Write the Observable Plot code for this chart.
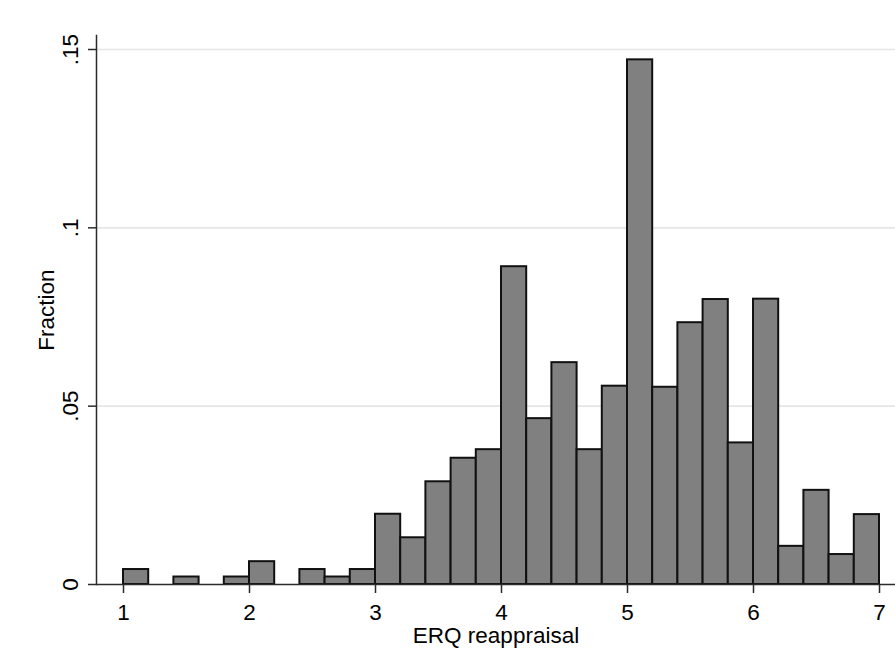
<!DOCTYPE html>
<html>
<head>
<meta charset="utf-8">
<script src="https://cdn.jsdelivr.net/npm/d3@7"></script>
<script src="https://cdn.jsdelivr.net/npm/@observablehq/plot@0.6"></script>
<style>
  html, body { margin: 0; padding: 0; background: #fff; }
  #chart svg { display: block; }
</style>
</head>
<body>
<div id="chart"></div>
<script>
// Histogram of ERQ reappraisal (bin width 0.2), only non-empty bins
const binWidth = 0.2;
const binLow = [1.0, 1.4, 1.8, 2.0, 2.4, 2.6, 2.8, 3.0, 3.2, 3.4, 3.6, 3.8, 4.0, 4.2, 4.4, 4.6, 4.8, 5.0, 5.2, 5.4, 5.6, 5.8, 6.0, 6.2, 6.4, 6.6, 6.8];
const fraction = [0.0042, 0.0021, 0.0021, 0.0064, 0.0042, 0.0021, 0.0042, 0.0197, 0.0131, 0.0288, 0.0354, 0.0378, 0.0891, 0.0465, 0.0622, 0.0378, 0.0556, 0.1471, 0.0553, 0.0734, 0.0799, 0.0397, 0.0800, 0.0107, 0.0264, 0.0084, 0.0196];
const xTicks = [1, 2, 3, 4, 5, 6, 7];
const xTickLabels = ["1", "2", "3", "4", "5", "6", "7"];
const yTicks = [0, 0.05, 0.1, 0.15];
const yTickLabels = ["0", ".05", ".1", ".15"];
const xTitle = "ERQ reappraisal";
const yTitle = "Fraction";

const bins = binLow.map((lo, i) => ({x1: lo, x2: lo + binWidth, y: fraction[i]}));
const yLabelData = yTicks.map((v, i) => ({v, label: yTickLabels[i]}));

const font = "'Liberation Sans', Arial, sans-serif";
const axisColor = "#2b2b2b";
const fs = 22.5;

const chart = Plot.plot({
  width: 895,
  height: 666,
  marginLeft: 96,
  marginRight: 0,
  marginTop: 35,
  marginBottom: 82,
  style: {fontFamily: font, fontSize: fs + "px", color: "#000", background: "#fff"},
  x: {domain: [1, 7], range: [123, 879]},
  y: {domain: [0, 0.15], range: [584, 49]},
  marks: [
    Plot.gridY(yTicks.filter(d => d > 0), {stroke: "#e6e6e6", strokeOpacity: 1, strokeWidth: 1.6}),
    Plot.rectY(bins, {x1: "x1", x2: "x2", y: "y", fill: "#808080", stroke: "#111", strokeWidth: 2}),
    Plot.frame({anchor: "left", stroke: axisColor, strokeWidth: 1.5}),
    Plot.ruleY([0], {stroke: axisColor, strokeWidth: 1.5}),
    Plot.axisY(yTicks, {tickSize: 8, stroke: axisColor, strokeWidth: 1.5, tickFormat: () => "", label: null}),
    Plot.axisX(xTicks, {tickSize: 9, tickPadding: 11, stroke: axisColor, strokeWidth: 1.5, fontSize: fs, fill: "#000", label: null, tickFormat: (d) => xTickLabels[xTicks.indexOf(d)]}),
    Plot.text(yLabelData, {y: "v", text: "label", frameAnchor: "left", dx: -26, rotate: -90, textAnchor: "middle", lineAnchor: "middle", fontSize: fs, fill: "#000"}),
    Plot.text([yTitle], {frameAnchor: "left", dx: -50, rotate: -90, textAnchor: "middle", lineAnchor: "middle", fontSize: fs, fill: "#000"}),
    Plot.text([xTitle], {frameAnchor: "bottom", dy: 51, textAnchor: "middle", lineAnchor: "middle", fontSize: fs, fill: "#000"})
  ]
});
document.getElementById("chart").appendChild(chart);
</script>
</body>
</html>
